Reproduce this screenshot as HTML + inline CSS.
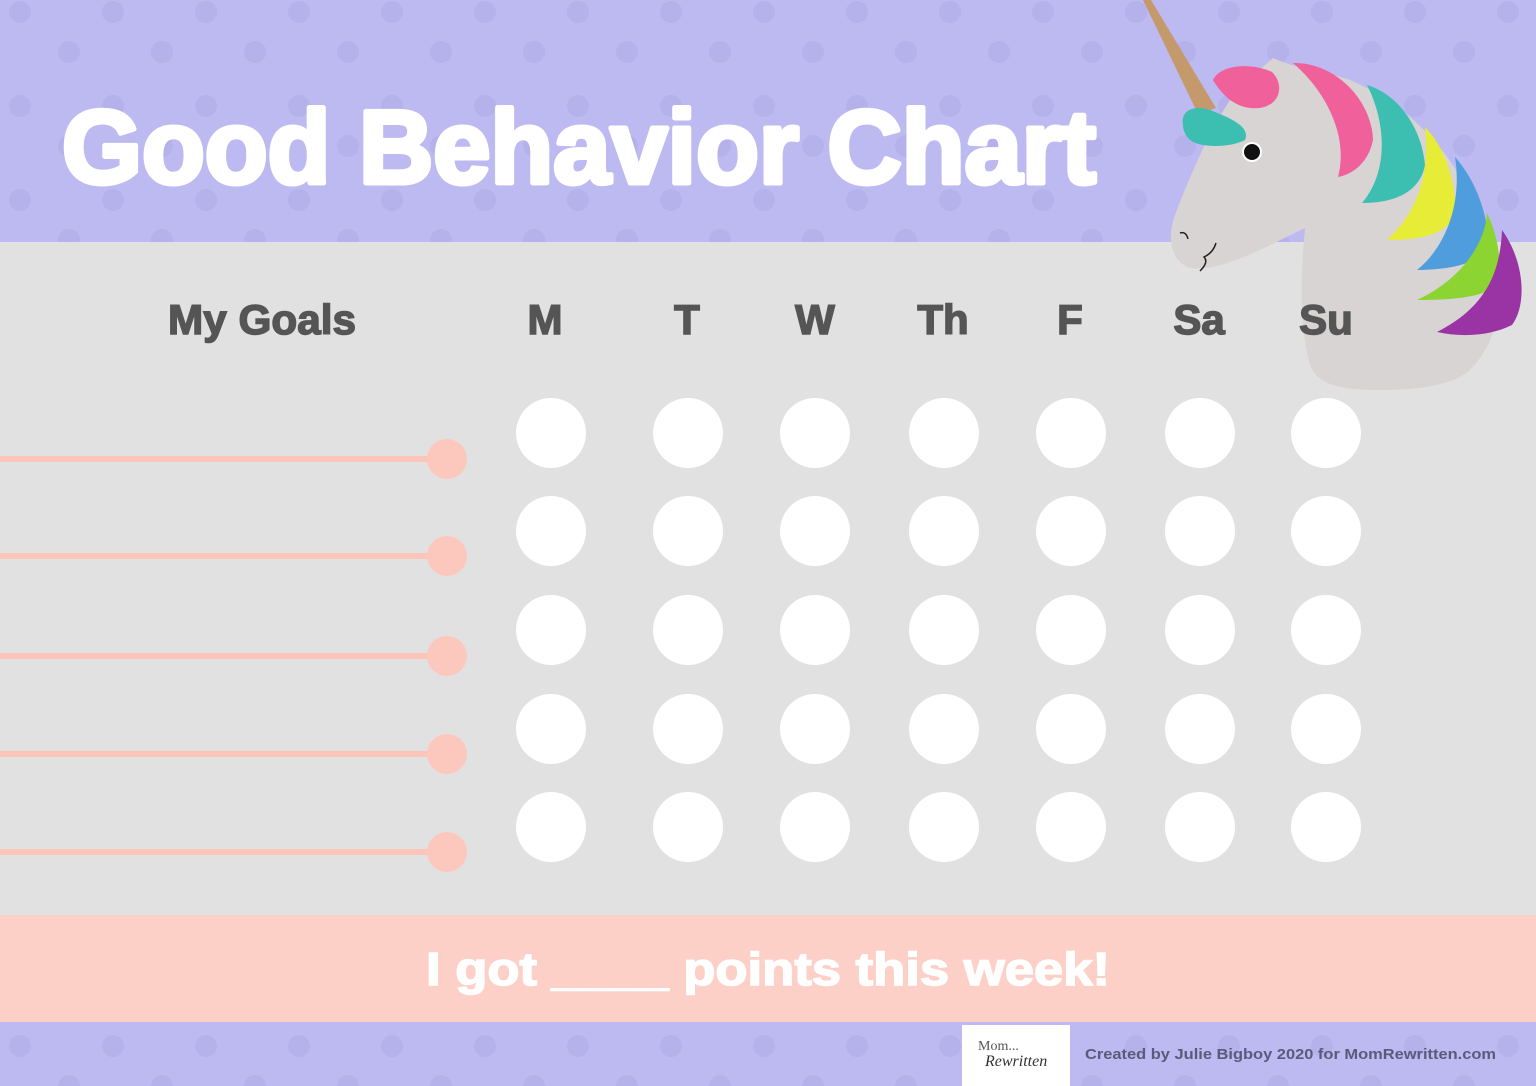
<!DOCTYPE html>
<html><head><meta charset="utf-8"><style>html,body{margin:0;padding:0;overflow:hidden}svg{display:block}</style></head><body>
<svg width="1536" height="1086" viewBox="0 0 1536 1086" xmlns="http://www.w3.org/2000/svg">
<defs>
<pattern id="dots" x="0" y="0" width="186" height="94" patternUnits="userSpaceOnUse">
<circle cx="20" cy="12" r="11" fill="#b5b1eb"/><circle cx="113" cy="12" r="11" fill="#b5b1eb"/>
<circle cx="69" cy="52" r="11" fill="#b5b1eb"/><circle cx="162" cy="52" r="11" fill="#b5b1eb"/>
</pattern>
</defs>
<rect width="1536" height="1086" fill="#bdb9f1"/>
<rect width="1536" height="1086" fill="url(#dots)"/>
<rect y="242" width="1536" height="673" fill="#e1e1e1"/>
<rect y="915" width="1536" height="107" fill="#fdd0c7"/>
<text x="62" y="183" font-family="Liberation Sans, sans-serif" font-weight="bold" font-size="104" fill="#fff" stroke="#fff" stroke-width="5" stroke-linejoin="round" textLength="1034" lengthAdjust="spacingAndGlyphs">Good Behavior Chart</text>
<g stroke="#fbc5ba" stroke-width="6" fill="#fcc8bd">
<line x1="0" y1="459" x2="447" y2="459"/><line x1="0" y1="556" x2="447" y2="556"/><line x1="0" y1="656" x2="447" y2="656"/><line x1="0" y1="754" x2="447" y2="754"/><line x1="0" y1="852" x2="447" y2="852"/>
</g>
<g fill="#fcc8bd"><circle cx="447" cy="459" r="20"/><circle cx="447" cy="556" r="20"/><circle cx="447" cy="656" r="20"/><circle cx="447" cy="754" r="20"/><circle cx="447" cy="852" r="20"/></g>
<g fill="#fff" id="row">
<circle cx="551" cy="433" r="35"/><circle cx="688" cy="433" r="35"/><circle cx="815" cy="433" r="35"/><circle cx="944" cy="433" r="35"/><circle cx="1071" cy="433" r="35"/><circle cx="1200" cy="433" r="35"/><circle cx="1326" cy="433" r="35"/>
</g>
<use href="#row" y="98"/><use href="#row" y="197"/><use href="#row" y="296"/><use href="#row" y="394"/>
<!-- unicorn -->
<g>
<path d="M1273 58 C1260 70 1245 80 1230 100 C1210 130 1190 175 1175 215 C1166 240 1172 262 1190 268 C1220 272 1260 250 1305 228 C1300 280 1300 330 1310 365 C1318 385 1340 390 1380 390 C1420 390 1450 385 1468 372 C1500 340 1505 300 1490 250 C1470 170 1420 110 1350 80 C1320 70 1300 70 1273 58 Z" fill="#d8d4d4"/>
<path d="M1143 0 L1151 0 L1216 108 L1198 114 Z" fill="#c49a6c"/>
<path d="M1213 80 C1220 65 1250 62 1272 72 C1285 85 1280 105 1260 108 C1240 110 1225 100 1213 80 Z" fill="#f0609b"/>
<path d="M1183 125 C1180 108 1198 104 1215 112 C1235 120 1250 128 1245 140 C1230 148 1200 148 1190 140 C1185 135 1183 130 1183 125 Z" fill="#3cbfb0"/>
<path d="M1293 63 C1335 62 1372 100 1373 140 C1368 165 1350 175 1338 177 C1348 140 1330 95 1293 63 Z" fill="#f0609b"/>
<path d="M1367 85 C1400 95 1422 130 1425 165 C1420 192 1395 203 1362 203 C1390 170 1385 120 1367 85 Z" fill="#3cbfb0"/>
<path d="M1425 127 C1448 150 1457 190 1455 215 C1445 235 1420 240 1387 240 C1420 210 1430 170 1425 127 Z" fill="#e7ec36"/>
<path d="M1455 157 C1480 185 1490 225 1488 250 C1475 265 1445 270 1417 270 C1448 245 1462 200 1455 157 Z" fill="#4f9ddd"/>
<path d="M1487 213 C1500 240 1502 270 1498 285 C1482 298 1450 300 1417 300 C1460 280 1485 245 1487 213 Z" fill="#8bd432"/>
<path d="M1502 230 C1525 262 1527 305 1512 325 C1492 335 1465 338 1437 332 C1480 310 1500 280 1502 230 Z" fill="#9a34a4"/>
<circle cx="1252" cy="152" r="10" fill="#fff"/><circle cx="1252" cy="152" r="8" fill="#111"/>
<path d="M1180 233 q6 -2 8 6" stroke="#222" stroke-width="1.5" fill="none"/>
<path d="M1216 243 q-3 10 -12 14 q5 5 -4 14" stroke="#222" stroke-width="1.5" fill="none"/>
</g>
<g font-family="Liberation Sans, sans-serif" font-weight="bold" font-size="42" fill="#555" text-anchor="middle" stroke="#555" stroke-width="1.5">
<text x="262" y="334" textLength="188" lengthAdjust="spacingAndGlyphs">My Goals</text>
<text x="545" y="334">M</text><text x="687" y="334">T</text><text x="815" y="334">W</text><text x="943" y="334">Th</text><text x="1070" y="334">F</text><text x="1199" y="334">Sa</text><text x="1326" y="334">Su</text>
</g>
<rect x="962" y="1025" width="108" height="61" fill="#fff"/>
<text x="978" y="1050" font-family="Liberation Serif, serif" font-size="14" fill="#555">Mom...</text>
<text x="985" y="1066" font-family="Liberation Serif, serif" font-style="italic" font-size="16" fill="#333">Rewritten</text>
<text x="1085" y="1059" font-family="Liberation Sans, sans-serif" font-weight="bold" font-size="15" fill="#5a5a7a" textLength="411" lengthAdjust="spacingAndGlyphs">Created by Julie Bigboy 2020 for MomRewritten.com</text>
<text x="768" y="985" text-anchor="middle" font-family="Liberation Sans, sans-serif" font-weight="bold" font-size="46" fill="#fff" stroke="#fff" stroke-width="1.5" textLength="684" lengthAdjust="spacingAndGlyphs">I got ____ points this week!</text>
</svg>
</body></html>
